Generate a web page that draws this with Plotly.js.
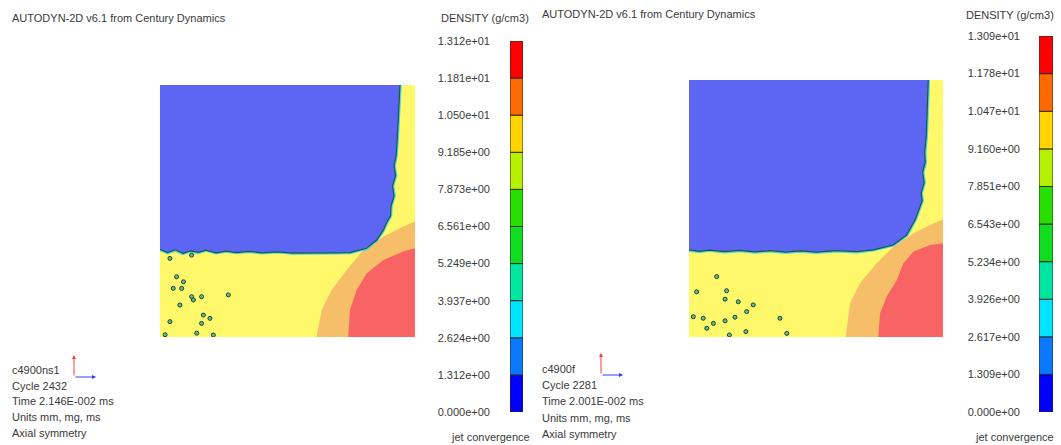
<!DOCTYPE html>
<html><head><meta charset="utf-8">
<script src="https://cdn.plot.ly/plotly-3.0.1.min.js"></script>
<style>html,body{margin:0;padding:0;background:#fff}#g{width:1061px;height:445px}</style>
</head><body><div id="g"></div>
<script>
// ---------- data (plot coordinates 0..100 in each panel) ----------
// Left panel (c4900ns1)
const L_blueX = [0, 94.1, 93.8, 93.4, 93.0, 92.6, 91.8, 92.4, 91.2, 91.8, 90.6, 90.4, 89.2, 87.6, 85.0, 81.0, 74.5, 68, 60, 52, 46, 40, 35, 30, 26, 22, 18, 15, 12, 9, 6, 3, 0];
const L_blueY = [100, 100, 92, 85, 78, 72, 68, 64, 60, 56, 52, 48, 46, 42.5, 38.5, 35.2, 33.5, 33.4, 33.4, 33.3, 33.8, 33.4, 34.0, 33.5, 34.1, 33.4, 34.5, 33.6, 34.2, 33.2, 34.6, 33.5, 34.8];
const L_orangeX = [61.4, 63.4, 67.3, 73.2, 79.7, 87.6, 95.4, 100, 100];
const L_orangeY = [0, 10.7, 18.7, 26.6, 34.5, 39.8, 43.8, 45.8, 0];
const L_redX = [73.8, 74.5, 77.1, 81.1, 87.6, 95.4, 100, 100];
const L_redY = [0, 10.7, 18.7, 25.3, 30.6, 33.9, 35.2, 0];
const L_dotX = [3.9, 12.4, 6.5, 9.2, 5.2, 8.5, 13.1, 12.4, 16.3, 26.8, 7.8, 17.0, 19.6, 3.9, 14.4, 2.0, 20.9, 16.3];
const L_dotY = [31.2, 32.5, 23.9, 21.9, 19.3, 19.3, 14.7, 16.0, 16.0, 16.7, 12.7, 8.7, 7.4, 6.1, 1.5, 0.9, 0.8, 5.4];
const L_levels = [0, 1.312, 2.624, 3.937, 5.249, 6.561, 7.873, 9.185, 10.50, 11.81, 13.12];
const L_labels = ["0.000e+00","1.312e+00","2.624e+00","3.937e+00","5.249e+00","6.561e+00","7.873e+00","9.185e+00","1.050e+01","1.181e+01","1.312e+01"];
const L_info = ["c4900ns1", "Cycle 2432", "Time 2.146E-002 ms", "Units mm, mg, ms", "Axial symmetry"];

// Right panel (c4900f)
const R_blueX = [0, 94.2, 94.0, 93.6, 93.4, 92.8, 93.0, 92.0, 92.6, 91.4, 91.8, 90.7, 89.0, 85.7, 80.4, 72.6, 66, 58, 50, 44, 38, 32, 26, 20, 14, 8, 4, 0];
const R_blueY = [100, 100, 92, 84, 78, 72, 68, 64, 60, 56, 53, 50, 45.5, 39.7, 35.8, 33.9, 33.2, 33.6, 33.0, 33.5, 33.0, 33.6, 33.1, 33.7, 33.2, 33.8, 33.3, 33.9];
const R_orangeX = [61.7, 63.4, 67.3, 73.9, 80.4, 88.3, 94.9, 100, 100];
const R_orangeY = [0, 13.1, 20.9, 28.7, 35.1, 40.3, 43.6, 45.8, 0];
const R_redX = [74.5, 75.2, 77.8, 81.8, 84.4, 88.3, 94.9, 100, 100];
const R_redY = [0, 9.2, 15.7, 22.2, 28.7, 33.2, 35.8, 36.5, 0];
const R_dotX = [10.9, 3.0, 14.8, 14.2, 19.4, 25.3, 1.7, 5.6, 9.6, 14.2, 18.1, 22.7, 7.0, 15.9, 22.4, 35.8, 38.5];
const R_dotY = [23.5, 17.6, 18.0, 14.7, 13.7, 12.5, 7.9, 7.3, 5.3, 6.3, 7.7, 9.9, 3.4, 0.8, 2.1, 7.3, 1.4];
const R_levels = [0, 1.309, 2.617, 3.926, 5.234, 6.543, 7.851, 9.160, 10.47, 11.78, 13.09];
const R_labels = ["0.000e+00","1.309e+00","2.617e+00","3.926e+00","5.234e+00","6.543e+00","7.851e+00","9.160e+00","1.047e+01","1.178e+01","1.309e+01"];
const R_info = ["c4900f", "Cycle 2281", "Time 2.001E-002 ms", "Units mm, mg, ms", "Axial symmetry"];

const bandColors = ["#0000ff","#0a78ff","#00e4ff","#00e6a0","#10dc20","#28e000","#b4f000","#ffd400","#ff6a00","#ff0000"];
const fieldColors = {yellow:"#fff86a", orange:"#f7be6a", red:"#f86464", blue:"#5c66f2"};
const titleText = "AUTODYN-2D v6.1 from Century Dynamics";
const cbTitle = "DENSITY (g/cm3)";
const cbFoot = "jet convergence";

// ---------- build ----------
const W = 1061, H = 445;
const fx = p => p / W, fy = p => 1 - p / H;
const FONT = {family: "Liberation Sans, Arial, sans-serif", size: 11, color: "#3a3a3a"};

function panelTraces(xa, ya, bX, bY, oX, oY, rX, rY, dX, dY) {
  const base = {xaxis: xa, yaxis: ya, hoverinfo: "skip", showlegend: false};
  return [
    Object.assign({type: "scatter", mode: "lines", x: [0, 100, 100, 0], y: [0, 0, 100, 100], fill: "toself",
      fillcolor: fieldColors.yellow, line: {width: 0}}, base),
    Object.assign({type: "scatter", mode: "lines", x: oX, y: oY, fill: "toself",
      fillcolor: fieldColors.orange, line: {width: 0}}, base),
    Object.assign({type: "scatter", mode: "lines", x: rX, y: rY, fill: "toself",
      fillcolor: fieldColors.red, line: {width: 0}}, base),
    Object.assign({type: "scatter", mode: "lines", x: bX.slice(1), y: bY.slice(1),
      line: {color: "#49d6ef", width: 3.5}}, base),
    Object.assign({type: "scatter", mode: "lines", x: bX, y: bY, fill: "toself",
      fillcolor: fieldColors.blue, line: {width: 0}}, base),
    Object.assign({type: "scatter", mode: "lines", x: bX.slice(1), y: bY.slice(1),
      line: {color: "#1d5a3c", width: 1.2}}, base),
    Object.assign({type: "scatter", mode: "markers", x: dX, y: dY,
      marker: {size: 4, color: "#5fc488", line: {color: "#1d3d2d", width: 1}}}, base)
  ];
}

function barTrace(xa, ya, levels) {
  const lows = levels.slice(0, -1);
  const heights = lows.map((v, i) => levels[i + 1] - v);
  return {type: "bar", xaxis: xa, yaxis: ya, x: lows.map(() => 0), y: heights, base: lows,
    width: 1, marker: {color: bandColors, line: {color: "#2a2a2a", width: 1}},
    hoverinfo: "skip", showlegend: false};
}

const data = [
  ...panelTraces("x", "y", L_blueX, L_blueY, L_orangeX, L_orangeY, L_redX, L_redY, L_dotX, L_dotY),
  ...panelTraces("x2", "y2", R_blueX, R_blueY, R_orangeX, R_orangeY, R_redX, R_redY, R_dotX, R_dotY),
  barTrace("x3", "y3", L_levels),
  barTrace("x4", "y4", R_levels)
];

const hidden = {showgrid: false, zeroline: false, showticklabels: false, ticks: "", showline: false, fixedrange: true};
const cbY = (levels, labels, pos, dom) => ({domain: dom, anchor: "free", position: pos, range: [levels[0], levels[levels.length - 1]],
  tickmode: "array", tickvals: levels, ticktext: labels, ticks: "", showgrid: false, zeroline: false, showline: false,
  tickfont: FONT, fixedrange: true});

const annotations = [];
function txt(t, px, py, anchor) {
  annotations.push({text: t, x: fx(px), y: fy(py), xref: "paper", yref: "paper", xanchor: anchor || "left",
    yanchor: "middle", showarrow: false, font: FONT});
}
txt(titleText, 10, 18);
txt(titleText, 540, 14);
txt(cbTitle, 531, 18, "right");
txt(cbTitle, 1056, 15, "right");
txt(cbFoot, 532, 437, "right");
txt(cbFoot, 1056, 437, "right");
L_info.forEach((s, i) => txt(s, 10, 370 + i * 15.7));
R_info.forEach((s, i) => txt(s, 540, 369 + i * 16.2));
// coordinate triad arrows
function triad(px, py) {
  annotations.push({x: fx(px), y: fy(py - 22), ax: fx(px), ay: fy(py), xref: "paper", yref: "paper", axref: "paper", ayref: "paper",
    showarrow: true, arrowhead: 2, arrowsize: 0.8, arrowwidth: 1, arrowcolor: "#ff3b3b", text: ""});
  annotations.push({x: fx(px + 22), y: fy(py), ax: fx(px), ay: fy(py), xref: "paper", yref: "paper", axref: "paper", ayref: "paper",
    showarrow: true, arrowhead: 2, arrowsize: 0.8, arrowwidth: 1, arrowcolor: "#2d3cff", text: ""});
}
triad(74, 377);
triad(601, 375);

const layout = {
  width: W, height: H, margin: {l: 0, r: 0, t: 0, b: 0}, paper_bgcolor: "#fff", plot_bgcolor: "rgba(0,0,0,0)",
  showlegend: false, bargap: 0, font: FONT,
  xaxis: Object.assign({domain: [fx(160), fx(415)], range: [0, 100], anchor: "y"}, hidden),
  yaxis: Object.assign({domain: [fy(337), fy(85)], range: [0, 100], anchor: "x"}, hidden),
  xaxis2: Object.assign({domain: [fx(689), fx(943)], range: [0, 100], anchor: "y2"}, hidden),
  yaxis2: Object.assign({domain: [fy(337), fy(80)], range: [0, 100], anchor: "x2"}, hidden),
  xaxis3: Object.assign({domain: [fx(510), fx(523)], range: [-0.5, 0.5], anchor: "y3"}, hidden),
  yaxis3: cbY(L_levels, L_labels, fx(490), [fy(412), fy(41)]),
  xaxis4: Object.assign({domain: [fx(1039), fx(1053)], range: [-0.5, 0.5], anchor: "y4"}, hidden),
  yaxis4: cbY(R_levels, R_labels, fx(1020), [fy(412), fy(36)]),
  annotations: annotations
};

Plotly.newPlot("g", data, layout, {staticPlot: true, displayModeBar: false});
</script></body></html>
